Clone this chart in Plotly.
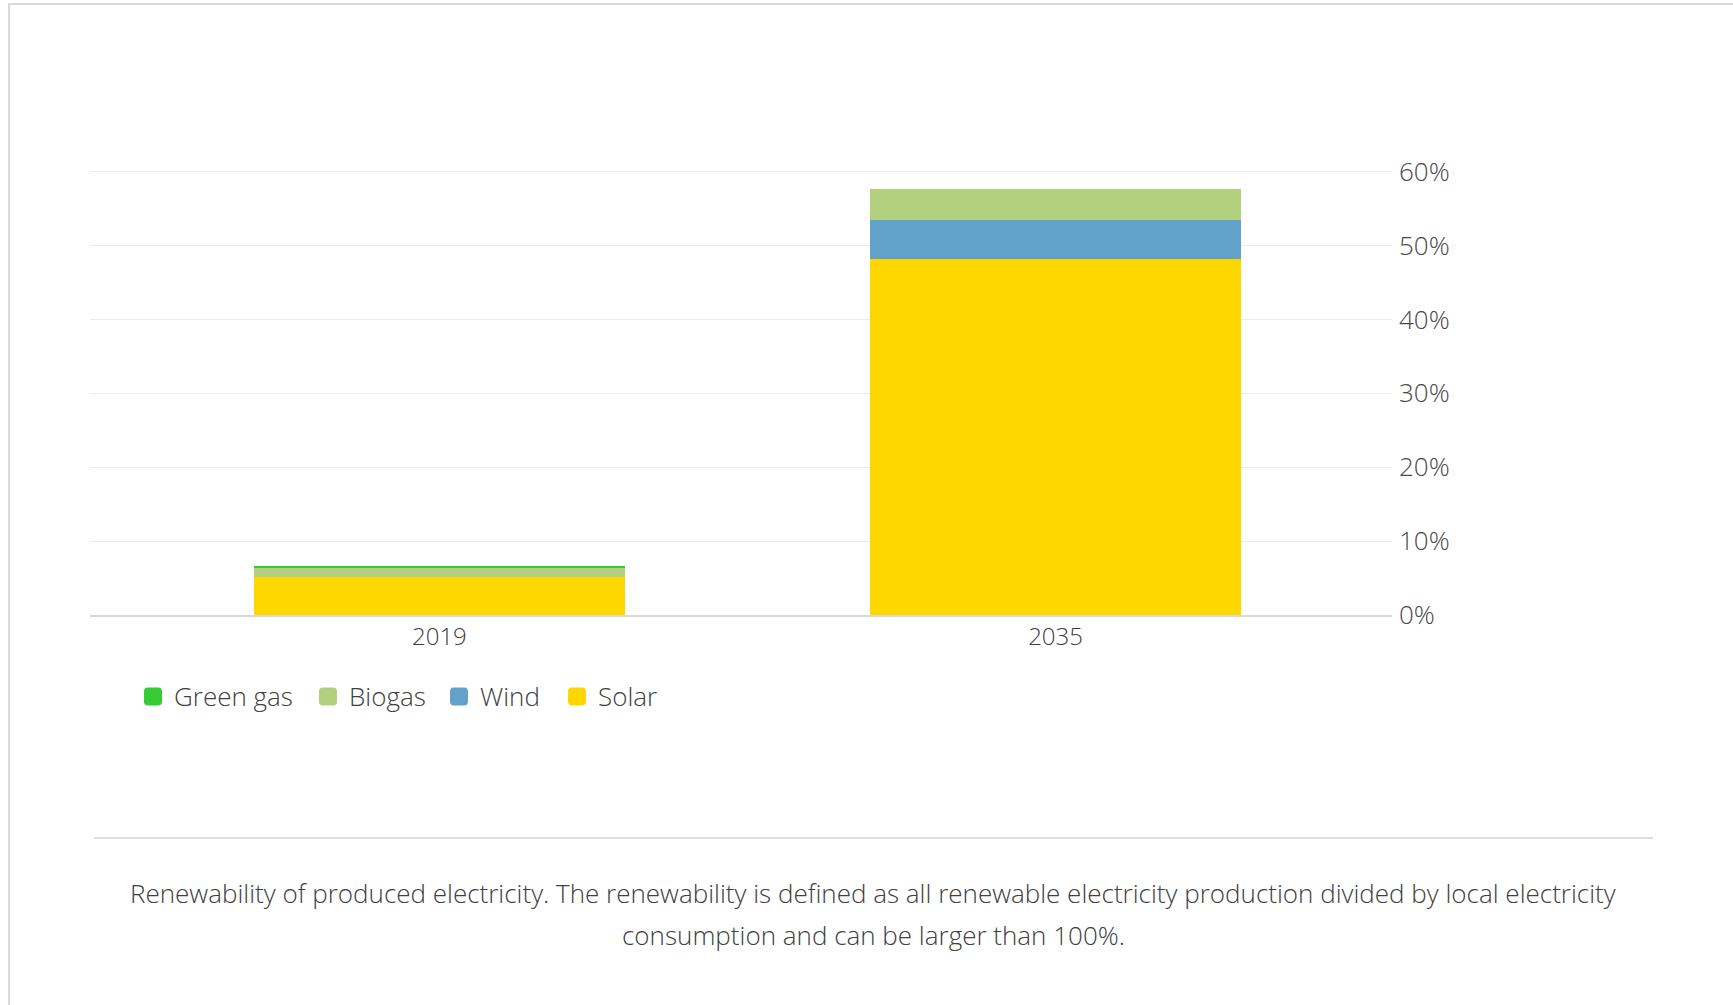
import plotly.graph_objects as go

# Renewable share of produced electricity, percent of local consumption
years = ["2019", "2035"]
solar = [5.18, 48.2]
wind = [0.0, 5.28]
biogas = [1.27, 4.19]
green_gas = [0.1, 0.0]

series_names = ["Solar", "Wind", "Biogas", "Green gas"]
series_values = [solar, wind, biogas, green_gas]
series_colors = ["#FED700", "#62A1C9", "#B3D07E", "#33CC33"]

y_tickvals = [0, 10, 20, 30, 40, 50, 60]
y_ticktext = ["0%", "10%", "20%", "30%", "40%", "50%", "60%"]

caption_lines = [
    "Renewability of produced electricity. The renewability is defined as all renewable electricity production divided by local electricity",
    "consumption and can be larger than 100%.",
]

FONT = "Open Sans, sans-serif"
TEXT = "#404040"
FS = 26

W, H = 1733, 1005
L, R, T, B = 90, 341, 168, 390
pw, ph = W - L - R, H - T - B


def px_x(x):
    return (x - L) / pw


def px_y(y):
    return (H - B - y) / ph


fig = go.Figure()
for name, vals, color in zip(series_names, series_values, series_colors):
    fig.add_trace(go.Bar(
        x=years, y=vals, name=name,
        marker=dict(color=color, line=dict(width=0)),
        width=0.602,
        hoverinfo="skip",
        showlegend=False,
    ))

shapes = [
    # caption separator
    dict(type="line", xref="paper", yref="paper",
         x0=px_x(94), x1=px_x(1653), y0=px_y(838), y1=px_y(838),
         line=dict(color="#dddddd", width=2)),
    # card border (left and top edges)
    dict(type="path", xref="paper", yref="paper",
         path=f"M {px_x(9)},{px_y(1010)} L {px_x(9)},{px_y(4)} L {px_x(1740)},{px_y(4)}",
         line=dict(color="#dadada", width=2)),
]

annotations = [
    dict(text=line, xref="paper", yref="paper", x=px_x(873), y=px_y(yc),
         xanchor="center", yanchor="middle", showarrow=False,
         font=dict(family=FONT, size=FS, color=TEXT, weight=300))
    for line, yc in zip(caption_lines, [893, 935])
]

# Legend row: rounded swatches followed by series names, top series first
ROUND_SQ = ("M -5,-9 L 5,-9 Q 9,-9 9,-5 L 9,5 Q 9,9 5,9 "
            "L -5,9 Q -9,9 -9,5 L -9,-5 Q -9,-9 -5,-9 Z")
legend_swatch_x = [153, 328, 459, 577]
legend_y = 696.5
for sx, name, color in zip(legend_swatch_x, series_names[::-1], series_colors[::-1]):
    shapes.append(dict(type="path", xref="paper", yref="paper",
                       xsizemode="pixel", ysizemode="pixel",
                       xanchor=px_x(sx), yanchor=px_y(legend_y),
                       path=ROUND_SQ, fillcolor=color, line=dict(width=0)))
    annotations.append(dict(text=name, xref="paper", yref="paper",
                            x=px_x(sx + 18.5), y=px_y(legend_y - 1),
                            xanchor="left", yanchor="middle", showarrow=False,
                            font=dict(family=FONT, size=FS, color=TEXT, weight=300)))

fig.update_layout(
    width=W, height=H,
    margin=dict(l=L, r=R, t=T, b=B, autoexpand=False),
    paper_bgcolor="white", plot_bgcolor="white",
    barmode="stack",
    font=dict(family=FONT, size=FS, color=TEXT, weight=300),
    showlegend=False,
    xaxis=dict(type="category", range=[-0.567, 1.546],
               showgrid=False, zeroline=False,
               showline=True, linecolor="rgba(0,0,0,0.15)", linewidth=2,
               ticks="", ticklabelstandoff=-1,
               tickfont=dict(size=24, color=TEXT)),
    yaxis=dict(side="right", range=[0, 60.5],
               tickvals=y_tickvals, ticktext=y_ticktext,
               showgrid=True, gridcolor="#ebebeb", gridwidth=1,
               zeroline=False, showline=False, ticks="",
               ticklabelstandoff=6,
               tickfont=dict(size=FS, color="#4a4a4a")),
    shapes=shapes,
    annotations=annotations,
)

fig.write_html("out.html")
